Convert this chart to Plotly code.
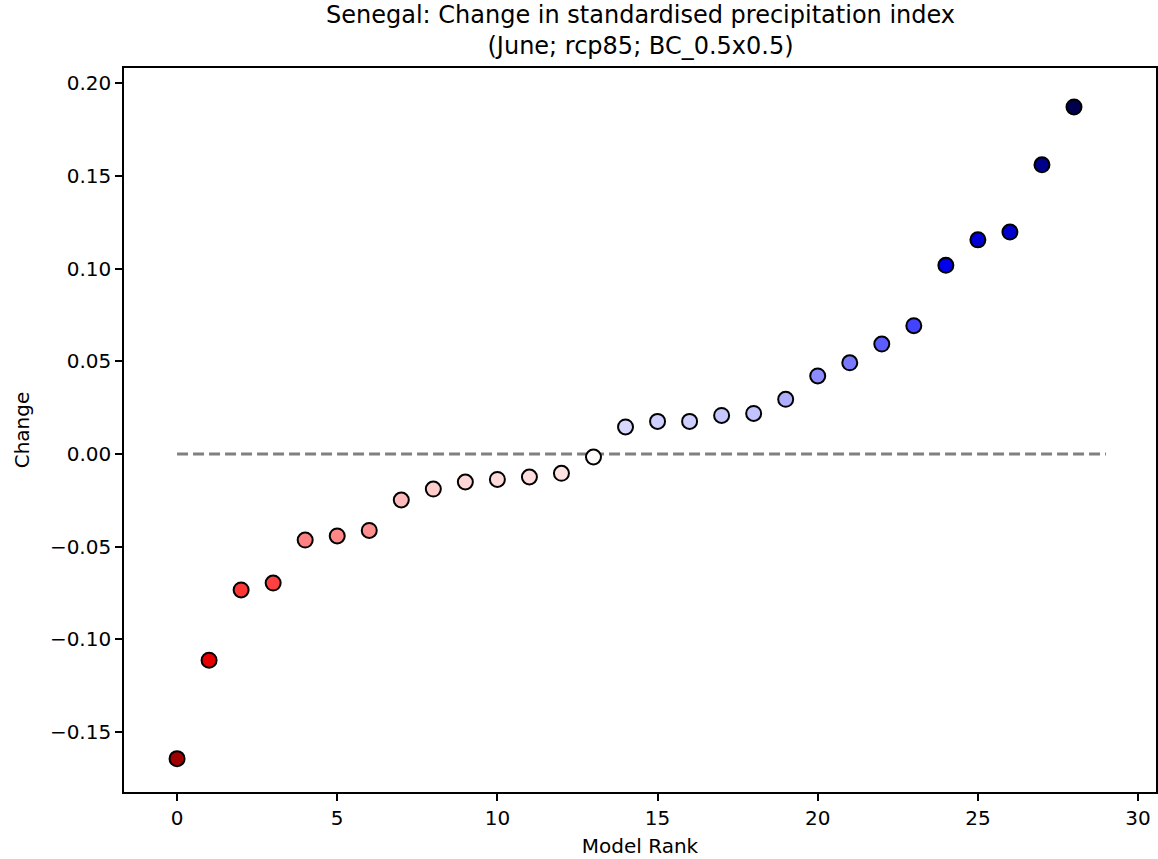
import plotly.graph_objects as go

# Model ranks and their change in standardised precipitation index
ranks = list(range(29))
change = [
    -0.1643, -0.1112, -0.0733, -0.0696, -0.0464, -0.0442, -0.0412, -0.0248,
    -0.0189, -0.0151, -0.0137, -0.0124, -0.0104, -0.0016, 0.0146, 0.0176,
    0.0176, 0.0208, 0.0219, 0.0295, 0.0421, 0.0492, 0.0593, 0.0692,
    0.1018, 0.1155, 0.1197, 0.1560, 0.1872,
]
x_ticks = [0, 5, 10, 15, 20, 25, 30]
y_ticks = [-0.15, -0.10, -0.05, 0.00, 0.05, 0.10, 0.15, 0.20]
y_tick_text = ["\u22120.15", "\u22120.10", "\u22120.05", "0.00", "0.05", "0.10", "0.15", "0.20"]
title_text = "Senegal: Change in standardised precipitation index<br>(June; rcp85; BC_0.5x0.5)"

# Diverging red-white-blue scale (dark red for drying, navy for wetting)
seismic_r = [
    [0.0, "rgb(127,0,0)"],
    [0.25, "rgb(255,0,0)"],
    [0.5, "rgb(255,255,255)"],
    [0.75, "rgb(0,0,255)"],
    [1.0, "rgb(0,0,77)"],
]
lim = max(abs(v) for v in change)

font = dict(family="DejaVu Sans", size=20, color="black")

fig = go.Figure()

# zero reference line
fig.add_trace(go.Scatter(
    x=[0, len(ranks)], y=[0, 0], mode="lines",
    line=dict(color="gray", width=3, dash="11px,5px"),
    hoverinfo="skip", showlegend=False,
))

fig.add_trace(go.Scatter(
    x=ranks, y=change, mode="markers",
    marker=dict(
        size=15, color=change, colorscale=seismic_r, cmin=-lim, cmax=lim,
        line=dict(color="black", width=2),
    ),
    showlegend=False,
))

axis_common = dict(
    showline=True, linecolor="black", linewidth=1.6, mirror=True,
    ticks="outside", ticklen=7, tickwidth=1.6, tickcolor="black",
    showgrid=False, zeroline=False, tickfont=font,
)

fig.update_layout(
    width=1158, height=859,
    margin=dict(l=124, r=0, t=68, b=67),
    paper_bgcolor="white", plot_bgcolor="white",
    font=font,
    xaxis=dict(
        range=[-1.656, 30.56], tickvals=x_ticks,
        title=dict(text="Model Rank", font=font, standoff=10),
        **axis_common,
    ),
    yaxis=dict(
        range=[-0.1823, 0.2082], tickvals=y_ticks, ticktext=y_tick_text,
        title=dict(text="Change", font=font, standoff=15),
        **axis_common,
    ),
    annotations=[dict(
        text=title_text, showarrow=False,
        x=0.5, xref="paper", xanchor="center",
        y=1, yref="paper", yanchor="bottom", yshift=6,
        font=dict(family="DejaVu Sans", size=24, color="black"),
    )],
)

fig.write_html("out.html")
